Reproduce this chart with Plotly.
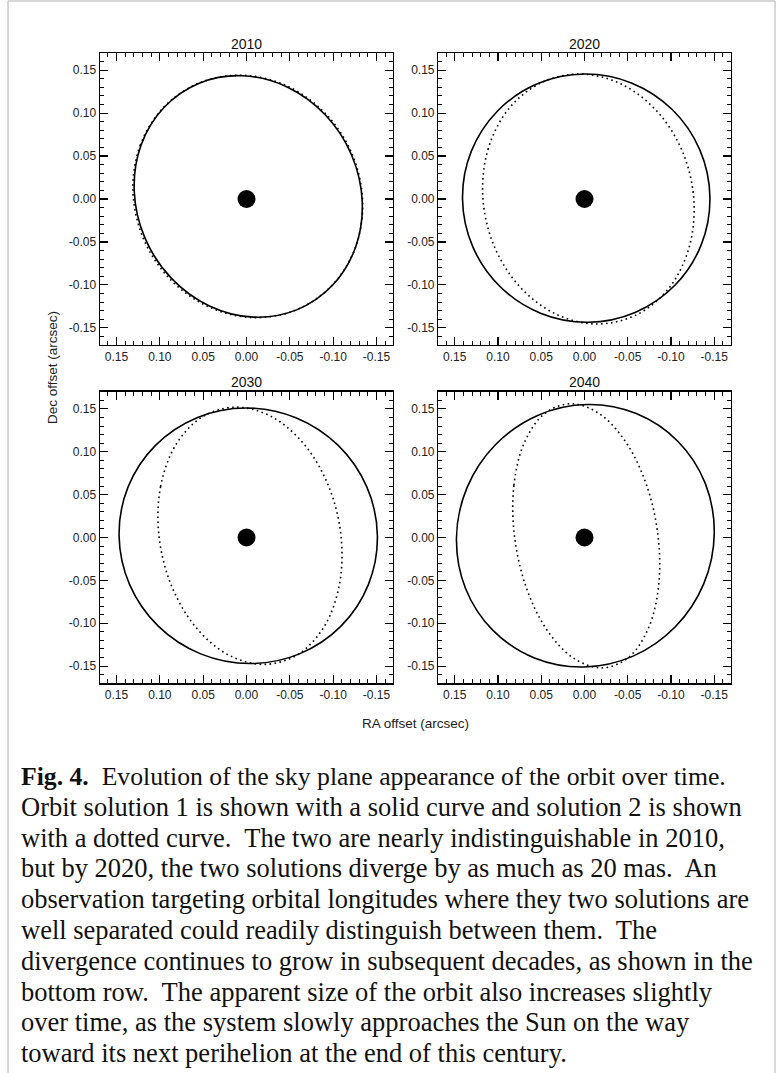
import plotly.graph_objects as go

W, H = 777, 1073

years = ["2010", "2020", "2030", "2040"]

# Orbit solution 1 (solid) and solution 2 (dotted): points
# (RA offset, Dec offset in arcsec), going round each orbit
sol1_2010_x = [0.1295, 0.1218, 0.0952, 0.0538, 0.004, -0.0468, -0.0908, -0.1212,
               -0.1335, -0.1258, -0.0992, -0.0578, -0.008, 0.0428, 0.0868, 0.1172]
sol1_2010_y = [0.009, 0.0623, 0.1065, 0.1351, 0.1435, 0.1305, 0.0981, 0.0513,
               -0.003, -0.0563, -0.1005, -0.1291, -0.1375, -0.1245, -0.0921, -0.0453]
sol2_2010_x = [0.131, 0.1226, 0.0954, 0.0534, 0.003, -0.048, -0.092, -0.1222,
               -0.134, -0.1256, -0.0984, -0.0564, -0.006, 0.045, 0.089, 0.1192]
sol2_2010_y = [0.009, 0.0625, 0.1069, 0.1356, 0.144, 0.131, 0.0985, 0.0515,
               -0.003, -0.0565, -0.1009, -0.1296, -0.138, -0.125, -0.0925, -0.0455]

sol1_2020_x = [0.141, 0.1309, 0.1005, 0.0545, 0.0, -0.0549, -0.1017, -0.1333,
               -0.145, -0.1349, -0.1045, -0.0585, -0.004, 0.0509, 0.0977, 0.1293]
sol1_2020_y = [0.0, 0.0554, 0.1025, 0.1341, 0.1455, 0.1349, 0.1039, 0.0572,
               0.002, -0.0534, -0.1005, -0.1321, -0.1435, -0.1329, -0.1019, -0.0552]
sol2_2020_x = [0.1175, 0.1116, 0.0882, 0.0505, 0.0045, -0.0429, -0.0844, -0.1138,
               -0.1265, -0.1206, -0.0972, -0.0595, -0.0135, 0.0339, 0.0754, 0.1048]
sol2_2020_y = [0.002, 0.0575, 0.1043, 0.1352, 0.1455, 0.1336, 0.1015, 0.0539,
               -0.002, -0.0575, -0.1043, -0.1352, -0.1455, -0.1336, -0.1015, -0.0539]

sol1_2030_x = [0.147, 0.1366, 0.105, 0.0571, 0.0003, -0.0569, -0.1058, -0.1388,
               -0.151, -0.1406, -0.109, -0.0611, -0.0043, 0.0529, 0.1018, 0.1348]
sol1_2030_y = [0.002, 0.059, 0.1074, 0.1397, 0.151, 0.1397, 0.1074, 0.059,
               0.002, -0.055, -0.1034, -0.1357, -0.147, -0.1357, -0.1034, -0.055]
sol2_2030_x = [0.101, 0.0991, 0.0815, 0.051, 0.012, -0.0294, -0.0669, -0.0949,
               -0.109, -0.1071, -0.0895, -0.059, -0.020, 0.0214, 0.0589, 0.0869]
sol2_2030_y = [0.002, 0.0594, 0.1081, 0.1406, 0.152, 0.1406, 0.1081, 0.0594,
               0.002, -0.0554, -0.1041, -0.1366, -0.148, -0.1366, -0.1041, -0.0554]

sol1_2040_x = [0.148, 0.1359, 0.103, 0.0542, -0.003, -0.0598, -0.1078, -0.1395,
               -0.150, -0.1379, -0.105, -0.0562, 0.001, 0.0578, 0.1058, 0.1375]
sol1_2040_y = [-0.001, 0.0578, 0.1081, 0.1423, 0.155, 0.1445, 0.1123, 0.0634,
               0.005, -0.0538, -0.1041, -0.1383, -0.151, -0.1405, -0.1083, -0.0594]
sol2_2040_x = [0.081, 0.0816, 0.0694, 0.0464, 0.016, -0.0172, -0.048, -0.0718,
               -0.085, -0.0856, -0.0734, -0.0504, -0.020, 0.0132, 0.044, 0.0678]
sol2_2040_y = [0.002, 0.0609, 0.1109, 0.1443, 0.156, 0.1443, 0.1109, 0.0609,
               0.002, -0.0569, -0.1069, -0.1403, -0.152, -0.1403, -0.1069, -0.0569]

sol1_x = [sol1_2010_x, sol1_2020_x, sol1_2030_x, sol1_2040_x]
sol1_y = [sol1_2010_y, sol1_2020_y, sol1_2030_y, sol1_2040_y]
sol2_x = [sol2_2010_x, sol2_2020_x, sol2_2030_x, sol2_2040_x]
sol2_y = [sol2_2010_y, sol2_2020_y, sol2_2030_y, sol2_2040_y]

sun_x = [0.0]
sun_y = [0.0]

tick_vals = [0.15, 0.10, 0.05, 0.00, -0.05, -0.10, -0.15]
tick_text = ["0.15", "0.10", "0.05", "0.00", "-0.05", "-0.10", "-0.15"]

caption_lines = [
    "<b>Fig. 4.</b>\u00a0 Evolution of the sky plane appearance of the orbit over time.",
    "Orbit solution 1 is shown with a solid curve and solution 2 is shown",
    "with a dotted curve.\u00a0 The two are nearly indistinguishable in 2010,",
    "but by 2020, the two solutions diverge by as much as 20 mas.\u00a0 An",
    "observation targeting orbital longitudes where they two solutions are",
    "well separated could readily distinguish between them.\u00a0 The",
    "divergence continues to grow in subsequent decades, as shown in the",
    "bottom row.\u00a0 The apparent size of the orbit also increases slightly",
    "over time, as the system slowly approaches the Sun on the way",
    "toward its next perihelion at the end of this century.",
]
caption_sizes = [25.7, 26.5, 26.5, 26.5, 26.5, 26.5, 26.5, 26.5, 26.5, 26.5]

# panel boxes in pixels: (left, right, top, bottom)
boxes = [(100, 393, 53, 345), (438.3, 730.7, 53, 345),
         (100, 393, 391.7, 683.3), (438.3, 730.7, 391.7, 683.3)]

def px_x(p):
    return p / W

def px_y(p):
    return 1 - p / H

fig = go.Figure()
layout = dict(width=W, height=H, margin=dict(l=0, r=0, t=0, b=0),
              paper_bgcolor="white", plot_bgcolor="white", showlegend=False,
              font=dict(family="Liberation Sans", color="#222"))

axis_common = dict(showline=True, linecolor="black", linewidth=1.4, mirror="allticks",
                   ticks="inside", ticklen=8, tickwidth=1.2, tickcolor="black",
                   showgrid=False, zeroline=False,
                   tickvals=tick_vals, ticktext=tick_text,
                   tickfont=dict(size=12, family="Liberation Sans", color="#222"),
                   minor=dict(ticks="inside", dtick=0.01, tick0=0, ticklen=4,
                              tickwidth=1, tickcolor="black", showgrid=False))

annotations = []
for i in range(4):
    n = "" if i == 0 else str(i + 1)
    xa, ya = "x" + n, "y" + n
    l, r, t, b = boxes[i]
    layout["xaxis" + n] = dict(axis_common, domain=[px_x(l), px_x(r)], range=[0.169, -0.169],
                               anchor=ya, fixedrange=True)
    layout["yaxis" + n] = dict(axis_common, domain=[px_y(b), px_y(t)], range=[-0.17, 0.17],
                               anchor=xa, fixedrange=True)
    # closed curves: repeat the first point so the spline is drawn closed and smooth
    xs1 = sol1_x[i] + sol1_x[i][:1]
    ys1 = sol1_y[i] + sol1_y[i][:1]
    xs2 = sol2_x[i] + sol2_x[i][:1]
    ys2 = sol2_y[i] + sol2_y[i][:1]
    fig.add_trace(go.Scatter(x=xs1, y=ys1, mode="lines", xaxis=xa, yaxis=ya,
                             line=dict(color="black", width=1.6, shape="spline", smoothing=1.0)))
    fig.add_trace(go.Scatter(x=xs2, y=ys2, mode="lines", xaxis=xa, yaxis=ya,
                             line=dict(color="black", width=1.6, shape="spline", smoothing=1.0,
                                       dash="1.6px,3.4px")))
    fig.add_trace(go.Scatter(x=sun_x, y=sun_y, mode="markers", xaxis=xa, yaxis=ya,
                             marker=dict(color="black", size=18, line=dict(width=0))))
    annotations.append(dict(text=years[i], x=px_x((l + r) / 2), y=px_y(t - 9.5),
                            xref="paper", yref="paper", showarrow=False,
                            xanchor="center", yanchor="middle",
                            font=dict(size=14, family="Liberation Sans", color="#111")))

annotations.append(dict(text="RA offset (arcsec)", x=px_x(415.5), y=px_y(723),
                        xref="paper", yref="paper", showarrow=False,
                        xanchor="center", yanchor="middle",
                        font=dict(size=13.5, family="Liberation Sans", color="#222")))
annotations.append(dict(text="Dec offset (arcsec)", x=px_x(52), y=px_y(368),
                        xref="paper", yref="paper", showarrow=False, textangle=-90,
                        xanchor="center", yanchor="middle",
                        font=dict(size=13.5, family="Liberation Sans", color="#222")))

for k, line in enumerate(caption_lines):
    annotations.append(dict(text=line, x=px_x(19), y=px_y(776 + k * 30.8),
                            xref="paper", yref="paper", showarrow=False,
                            xanchor="left", yanchor="middle",
                            font=dict(size=caption_sizes[k], family="Liberation Serif", color="#111")))

layout["annotations"] = annotations
layout["shapes"] = [dict(type="rect", xref="paper", yref="paper",
                         x0=px_x(8), x1=px_x(775), y0=-0.05, y1=px_y(1),
                         line=dict(color="#b0b0b0", width=1), fillcolor="rgba(0,0,0,0)")]

fig.update_layout(**layout)
fig.write_html("out.html", config={"displayModeBar": False, "staticPlot": True},
               post_script="document.body.style.margin='0';document.body.style.overflow='hidden';")
